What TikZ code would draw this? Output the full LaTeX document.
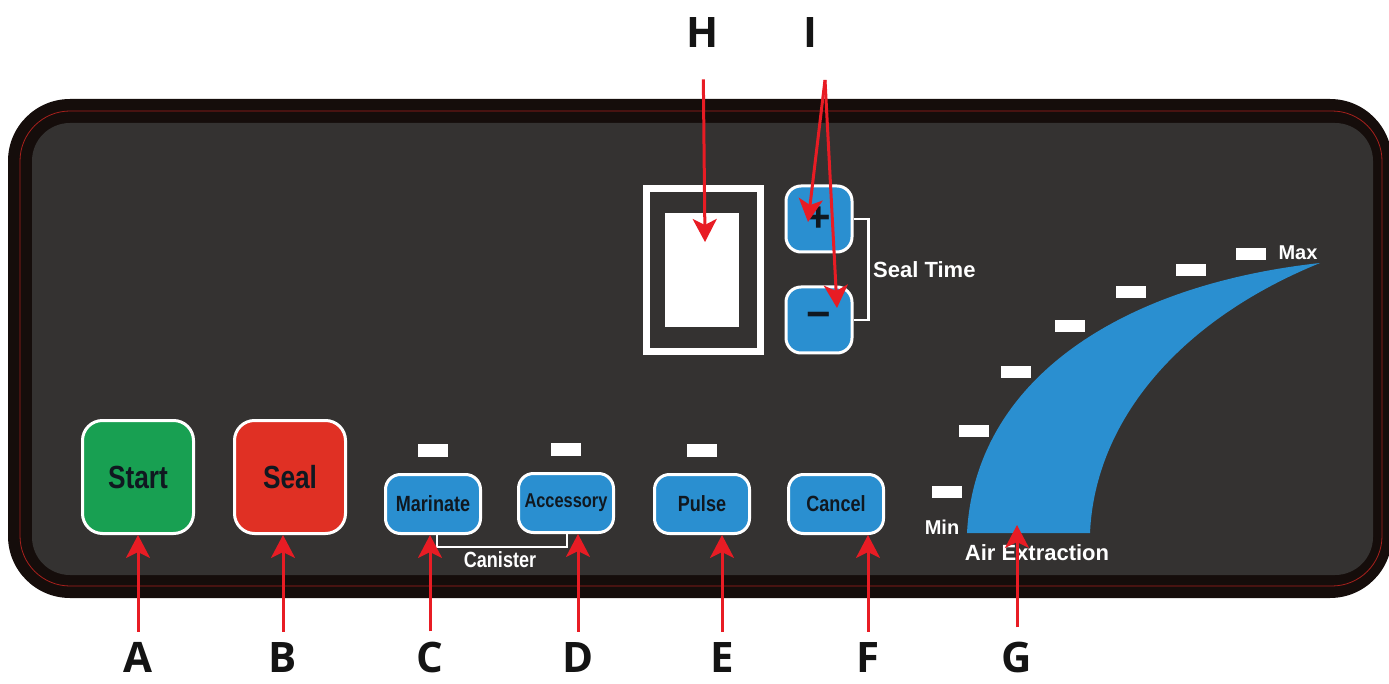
\documentclass[tikz,border=0pt]{standalone}
\usepackage{fontspec}
\setmainfont{Liberation Sans}
\newfontfamily\condfont[FakeStretch=0.82]{Liberation Sans}
\newfontfamily\heavyfont{Open Sans}
\usepackage{tikz}
\usetikzlibrary{positioning, arrows.meta, calc}
\definecolor{frameDark}{HTML}{150D0B}
\definecolor{frameLine}{HTML}{A8201C}
\definecolor{panelGrey}{HTML}{343231}
\definecolor{keyBlue}{HTML}{2A8FD0}
\definecolor{keyGreen}{HTML}{18A052}
\definecolor{keyRed}{HTML}{E03024}
\definecolor{calloutRed}{HTML}{E81C24}
\definecolor{keyText}{HTML}{101820}
\definecolor{labelBlack}{HTML}{141414}

\begin{document}
\begin{tikzpicture}[x=1pt, y=-1pt,
    bigkey/.style={rectangle, rounded corners=20pt, draw=white, line width=3pt,
                   minimum width=111pt, minimum height=113pt, inner sep=0pt,
                   text=keyText, font=\condfont\bfseries\fontsize{32}{32}\selectfont},
    smallkey/.style={rectangle, rounded corners=15pt, draw=white, line width=3pt, fill=keyBlue,
                     minimum width=95pt, minimum height=59pt, inner sep=0pt,
                     text=keyText, font=\condfont\bfseries\fontsize{22}{22}\selectfont},
    led/.style={rectangle, fill=white, minimum width=30pt, minimum height=13pt, inner sep=0pt},
    caption/.style={text=white, inner sep=0pt, font=\bfseries\fontsize{22}{22}\selectfont},
    lbl/.style={inner sep=0pt, text=labelBlack, font=\heavyfont\bfseries\fontsize{42}{42}\selectfont},
    callout/.style={draw=calloutRed, line width=3pt,
                    -{Stealth[length=23pt, width=24pt, inset=6pt]}}]
  \useasboundingbox (0,0) rectangle (1389,684);
  \fill[frameDark, rounded corners=62pt] (8,99) rectangle (1392,598);
  \draw[frameLine, line width=0.8pt, rounded corners=50pt] (20,111) rectangle (1382,586);
  \fill[panelGrey, rounded corners=38pt] (32,123) rectangle (1373,575);

  \node[bigkey, fill=keyGreen] (start) at (138,477) {Start};
  \node[bigkey, fill=keyRed] (seal) at (290,477) {Seal};
  \node[smallkey] (marinate) at (433,504) {Marinate};
  \node[smallkey, font=\condfont\bfseries\fontsize{20}{20}\selectfont] (accessory) at (566,503) {Accessory};
  \node[smallkey] (pulse) at (702,504) {Pulse};
  \node[smallkey] (cancel) at (836,504) {Cancel};
  \foreach \k in {marinate, accessory, pulse} { \node[led] at ($(\k.north)+(0,-23)$) {}; }

  \draw[white, line width=2.5pt] ([xshift=4pt]marinate.south) -- ++(0,12) -| ([xshift=1pt]accessory.south);
  \node[caption, font=\condfont\bfseries\fontsize{22}{22}\selectfont] (canister) at (500,560) {Canister};

  \draw[white, line width=7pt] (646,189) rectangle (760,352);
  \node[rectangle, fill=white, minimum width=74pt, minimum height=114pt, inner sep=0pt] (screen) at (702,270) {};
  \node[smallkey, minimum width=66pt, minimum height=66pt, font=\bfseries\fontsize{42}{42}\selectfont] (plus) at (819,219) {+};
  \node[smallkey, minimum width=66pt, minimum height=66pt, font=\bfseries\fontsize{42}{42}\selectfont] (minus) at (819,320) {\char"2212};
  \draw[white, line width=2.5pt] (plus.east) -- ++(15,0) |- (minus.east);
  \node[caption, anchor=west] (sealtime) at (873,270) {Seal Time};

  \fill[keyBlue] (967,533) .. controls (975,380) and (1120,285) .. (1320,263)
                 .. controls (1180,320) and (1095,420) .. (1090,533) -- cycle;
  \foreach \x/\y in {947/492, 974/431, 1016/372, 1070/326, 1131/292, 1191/270, 1251/254}
    { \node[led, minimum height=12pt] at (\x,\y) {}; }
  \node[caption, font=\bfseries\fontsize{20}{20}\selectfont] (min) at (942,527) {Min};
  \node[caption, font=\bfseries\fontsize{20}{20}\selectfont] (max) at (1298,253) {Max};
  \node[caption] (airext) at (1037,553) {Air Extraction};
  \coordinate (airtip) at (1017,525);

  \foreach \n/\x in {A/138, B/283, C/430, D/578, E/722, F/868, G/1017}
    { \node[lbl, anchor=base] (lbl\n) at (\x,672) {\n}; }
  \node[lbl, anchor=north] (lblH) at (703,17) {H};
  \node[lbl, anchor=north] (lblI) at (810,17) {I};
  \coordinate (iroot) at (825,80);

  \draw[callout, shorten <=10pt] (lblA.north) -- (lblA.north |- start.south);
  \draw[callout, shorten <=10pt] (lblB.north) -- (lblB.north |- seal.south);
  \draw[callout, shorten <=10pt] (lblC.north) -- (lblC.north |- marinate.south);
  \draw[callout, shorten <=10pt] (lblD.north) -- (lblD.north |- accessory.south);
  \draw[callout, shorten <=10pt] (lblE.north) -- (lblE.north |- pulse.south);
  \draw[callout, shorten <=10pt] (lblF.north) -- (lblF.north |- cancel.south);
  \draw[callout, shorten <=14pt] (lblG.north) -- (airtip);
  \draw[callout, shorten <=32pt] (lblH.south) -- ($(screen.center)+(3,-28)$);
  \draw[callout] (iroot) -- ($(plus.center)+(-11,3)$);
  \draw[callout] (iroot) -- ($(minus.center)+(18,-12)$);
\end{tikzpicture}
\end{document}
